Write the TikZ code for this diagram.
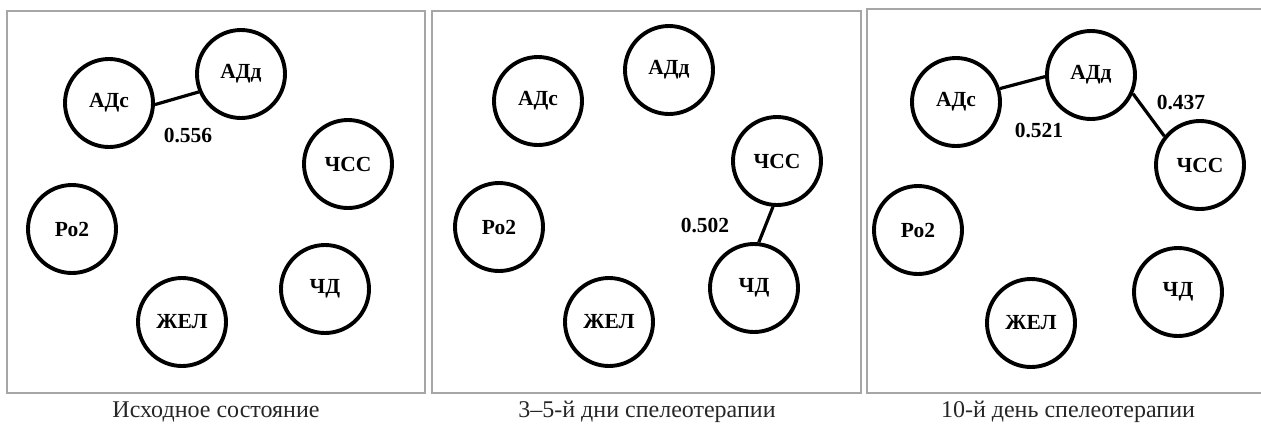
\documentclass[tikz,border=0pt]{standalone}
\usepackage{fontspec}
\setmainfont{Liberation Serif}
\begin{document}
\begin{tikzpicture}[x=1pt,y=-1pt,
  frame/.style={draw=black!35,line width=1.4pt},
  var/.style={circle,draw=black,line width=3.9pt,minimum size=88pt,inner sep=0pt,
    font=\fontsize{21.5}{22}\selectfont\bfseries},
  link/.style={draw=black,line width=3.2pt},
  weight/.style={font=\fontsize{21.5}{22}\selectfont\bfseries,inner sep=0pt},
  caption/.style={font=\fontsize{24}{24}\selectfont,inner sep=0pt,text=black!85}]
\useasboundingbox (0,0) rectangle (1261,424);

% panel frames
\draw[frame] (7,11) rectangle (425,393);
\draw[frame] (432,11) rectangle (861,393);
\draw[frame] (867,9) rectangle (1264,393);

% initial state
\node[var] (a1) at (109,103) {АДс};
\node[var] (b1) at (241,74) {АДд};
\node[var] (c1) at (348,164) {ЧСС};
\node[var] (p1) at (72,229) {Ро2};
\node[var] (r1) at (325,289) {ЧД};
\node[var] (z1) at (182,322) {ЖЕЛ};
\draw[link] (a1.-2) -- (b1.-157);
\node[weight] (w1) at (188,135) {0.556};
\node[caption] (t1) at (216,412) {Исходное состояние};

% days 3-5
\node[var] (a2) at (538,101) {АДс};
\node[var] (b2) at (669,70) {АДд};
\node[var] (c2) at (777,161) {ЧСС};
\node[var] (p2) at (499,227) {Ро2};
\node[var] (r2) at (754,288) {ЧД};
\node[var] (z2) at (609,322) {ЖЕЛ};
\draw[link] (c2.-95) -- (r2.84);
\node[weight] (w2) at (705,225) {0.502};
\node[caption] (t2) at (647,412) {3–5-й дни спелеотерапии};

% day 10
\node[var] (a3) at (956,102) {АДс};
\node[var] (b3) at (1091,75) {АДд};
\node[var] (c3) at (1200,165) {ЧСС};
\node[var] (p3) at (918,230) {Ро2};
\node[var] (r3) at (1178,292) {ЧД};
\node[var] (z3) at (1031,323) {ЖЕЛ};
\draw[link] (a3.17) -- (b3.-178);
\draw[link] (b3.-24) -- (c3.141);
\node[weight] (w3) at (1039,130) {0.521};
\node[weight] (w4) at (1181,102) {0.437};
\node[caption] (t3) at (1068,412) {10-й день спелеотерапии};
\end{tikzpicture}
\end{document}
